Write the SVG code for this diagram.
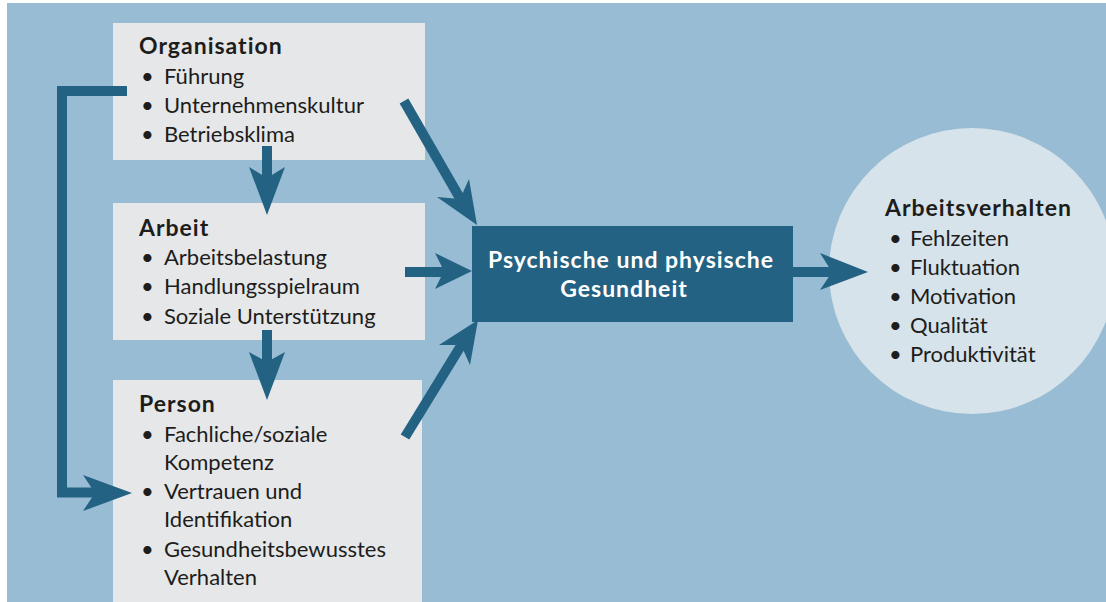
<svg xmlns="http://www.w3.org/2000/svg" width="1106" height="602" viewBox="0 0 1106 602">
<style>
.bg{fill:#97bcd3}
.box{fill:#e6e7e9}
.t{font-family:Lato,"Open Sans",sans-serif;font-size:22px;fill:#1d1d1b}
.b{font-weight:bold;font-size:23px;letter-spacing:1px}
.w{font-family:Lato,"Open Sans",sans-serif;font-size:23px;letter-spacing:1px;font-weight:bold;fill:#ffffff}
.ln{fill:none;stroke:#236282;stroke-width:10;stroke-linejoin:miter;stroke-linecap:butt}
.hd{fill:#236282}
</style>
<rect class="bg" x="7" y="3" width="1099" height="599"/>
<g id="organisation">
<rect class="box" x="113" y="23" width="312" height="137"/>
<text class="t b" x="139" y="54">Organisation</text>
<text class="t" x="141" y="84">•</text><text class="t" x="164" y="84">Führung</text>
<text class="t" x="141" y="113">•</text><text class="t" x="164" y="113">Unternehmenskultur</text>
<text class="t" x="141" y="142">•</text><text class="t" x="164" y="142">Betriebsklima</text>
</g>
<g id="arbeit">
<rect class="box" x="113" y="203" width="312" height="137"/>
<text class="t b" x="139" y="236">Arbeit</text>
<text class="t" x="141" y="265">•</text><text class="t" x="164" y="265">Arbeitsbelastung</text>
<text class="t" x="141" y="294">•</text><text class="t" x="164" y="294">Handlungsspielraum</text>
<text class="t" x="141" y="324">•</text><text class="t" x="164" y="324">Soziale Unterstützung</text>
</g>
<g id="person">
<rect class="box" x="113" y="380" width="309" height="222"/>
<text class="t b" x="139" y="412">Person</text>
<text class="t" x="141" y="442">•</text><text class="t" x="164" y="442">Fachliche/soziale</text>
<text class="t" x="164" y="470">Kompetenz</text>
<text class="t" x="141" y="499">•</text><text class="t" x="164" y="499">Vertrauen und</text>
<text class="t" x="164" y="527">Identifikation</text>
<text class="t" x="141" y="557">•</text><text class="t" x="164" y="557">Gesundheitsbewusstes</text>
<text class="t" x="164" y="585">Verhalten</text>
</g>
<g id="gesundheit">
<rect fill="#236282" x="472" y="226" width="321" height="96"/>
<text class="w" x="631" y="268" text-anchor="middle">Psychische und physische</text>
<text class="w" x="624" y="297" text-anchor="middle">Gesundheit</text>
</g>
<g id="arbeitsverhalten">
<circle fill="#d7e3eb" cx="972" cy="271" r="143"/>
<text class="t b" x="885" y="216">Arbeitsverhalten</text>
<text class="t" x="889" y="246">•</text><text class="t" x="910" y="246">Fehlzeiten</text>
<text class="t" x="889" y="275">•</text><text class="t" x="910" y="275">Fluktuation</text>
<text class="t" x="889" y="304">•</text><text class="t" x="910" y="304">Motivation</text>
<text class="t" x="889" y="333">•</text><text class="t" x="910" y="333">Qualität</text>
<text class="t" x="889" y="362">•</text><text class="t" x="910" y="362">Produktivität</text>
</g>
<g id="connectors">
<line class="ln" x1="267" y1="146" x2="267" y2="180"/>
<polygon class="hd" points="267,215 249,167 267,178 285,167"/>
<line class="ln" x1="267" y1="330" x2="267" y2="364"/>
<polygon class="hd" points="267,400 249,352 267,362 285,352"/>
<line class="ln" x1="404" y1="101" x2="461" y2="200"/>
<polygon class="hd" points="477,225 437,197 460,199 469,179"/>
<line class="ln" x1="405" y1="437" x2="462" y2="344"/>
<polygon class="hd" points="478,320 470,365 461,345 439,345"/>
<line class="ln" x1="405" y1="272" x2="445" y2="272"/>
<polygon class="hd" points="472,271 435,253 444,271 435,289"/>
<line class="ln" x1="793" y1="272" x2="834" y2="272"/>
<polygon class="hd" points="868,272 820,253 832,272 820,290"/>
<polyline class="ln" points="127,91 62,91 62,492.5 97,492.5"/>
<polygon class="hd" points="132,493 83,475 95,493 83,511"/>
</g>
</svg>
